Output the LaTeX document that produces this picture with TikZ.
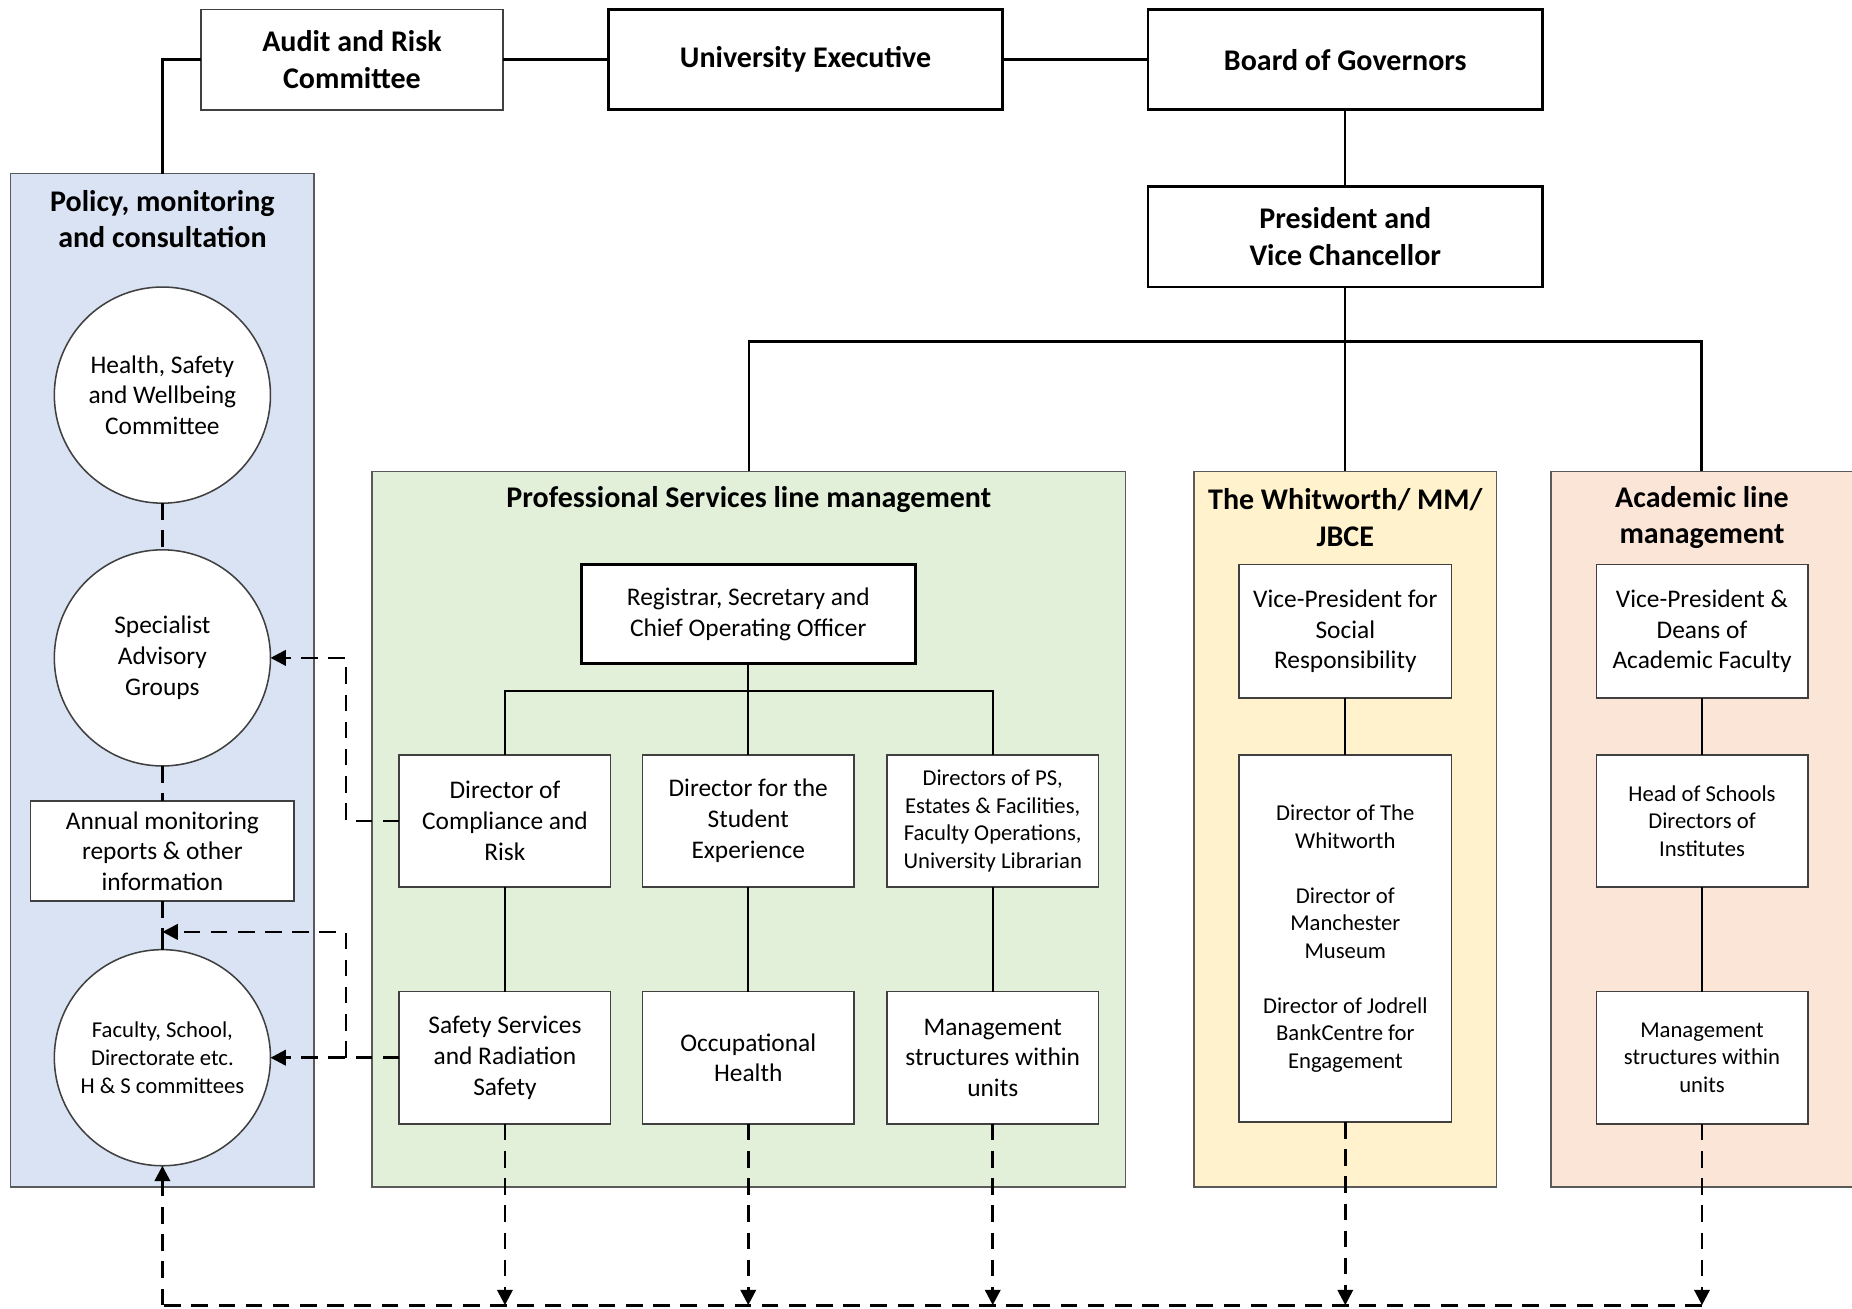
\documentclass[tikz,border=0pt]{standalone}
\usepackage{fontspec}
\setmainfont{Carlito}
\usetikzlibrary{arrows.meta}
\definecolor{polblue}{HTML}{DAE3F3}
\definecolor{psgreen}{HTML}{E2F0D9}
\definecolor{whyellow}{HTML}{FFF2CC}
\definecolor{acpeach}{HTML}{FBE5D6}
\definecolor{framegray}{HTML}{5A5A5A}
\definecolor{boxgray}{HTML}{404040}
\newcommand\hsBig{\fontsize{25.4}{31}\selectfont\bfseries}
\newcommand\hsMid{\fontsize{21.5}{26}\selectfont}
\newcommand\hsSmall{\fontsize{19.2}{23.3}\selectfont}
\begin{document}
\begin{tikzpicture}[x=1pt,y=-1pt,
  container/.style={draw=framegray, line width=1.3pt, inner sep=0, outer sep=0},
  heavybox/.style={draw=black, line width=2.4pt, fill=white, align=center, inner sep=0, outer sep=0, font=\hsBig},
  lightbox/.style={draw=boxgray, line width=1.3pt, fill=white, align=center, inner sep=0, outer sep=0},
  roundbox/.style={circle, draw=boxgray, line width=1.3pt, fill=white, align=center, inner sep=0, outer sep=0, minimum size=183pt},
  titletext/.style={align=center, font=\hsBig, inner sep=0},
  link/.style={line width=2pt},
  dlink/.style={line width=2.3pt, dash pattern=on 14pt off 9pt},
  arrowend/.style={-{Triangle[length=13pt,width=13pt]}}
]
\useasboundingbox (0,0) rectangle (1568,1108);

% containers
\node[container, fill=polblue, minimum width=257pt, minimum height=858pt] (pol) at (137.5,576) {};
\node[container, fill=psgreen, minimum width=638pt, minimum height=606pt] (ps) at (634,702) {};
\node[container, fill=whyellow, minimum width=256pt, minimum height=606pt] (wh) at (1139,702) {};
\node[fill=acpeach, inner sep=0, outer sep=0, minimum width=255pt, minimum height=606pt] (ac) at (1440.5,702) {};
\draw[draw=framegray, line width=1.3pt] (ac.north east) -- (ac.north west) -- (ac.south west) -- (ac.south east);

% titles
\node[titletext] (poltitle) at (137.5,185.5) {Policy, monitoring\\and consultation};
\node[titletext] (pstitle) at (634,423) {Professional Services line management};
\node[titletext] (whtitle) at (1139,438) {The Whitworth/ MM/\\JBCE};
\node[titletext] (actitle) at (1441,438) {Academic line\\management};

% top boxes
\node[lightbox, font=\hsBig, minimum width=256pt, minimum height=85pt] (audit) at (298,50.5) {Audit and Risk\\Committee};
\node[heavybox, minimum width=334pt, minimum height=85pt] (ue) at (682,50.5) {University Executive};
\node[heavybox, minimum width=334pt, minimum height=85pt] (bog) at (1139,50.5) {Board of Governors};
\node[heavybox, minimum width=334pt, minimum height=85pt] (pres) at (1139,200.5) {President and\\Vice Chancellor};

% policy column
\node[roundbox, font=\hsMid] (c1) at (137.5,334.5) {Health, Safety\\and Wellbeing\\Committee};
\node[roundbox, font=\hsMid] (c2) at (137.5,557) {Specialist\\Advisory\\Groups};
\node[lightbox, font=\hsMid, minimum width=223pt, minimum height=85pt] (annual) at (137.5,720.5) {Annual monitoring\\reports \& other\\information};
\node[roundbox, font=\hsSmall] (c3) at (137.5,895.5) {Faculty, School,\\Directorate etc.\\H \& S committees};

% professional services
\node[heavybox, font=\hsMid, minimum width=283pt, minimum height=84pt] (reg) at (633.5,520) {Registrar, Secretary and\\Chief Operating Officer};
\node[lightbox, font=\hsMid, minimum width=179pt, minimum height=112pt] (dcr) at (427.5,695) {Director of\\Compliance and\\Risk};
\node[lightbox, font=\hsMid, minimum width=179pt, minimum height=112pt] (dse) at (633.5,695) {Director for the\\Student\\Experience};
\node[lightbox, font=\hsSmall, minimum width=179pt, minimum height=112pt] (dps) at (840.5,695) {Directors of PS,\\Estates \& Facilities,\\Faculty Operations,\\University Librarian};
\node[lightbox, font=\hsMid, minimum width=179pt, minimum height=112pt] (ssr) at (427.5,895.5) {Safety Services\\and Radiation\\Safety};
\node[lightbox, font=\hsMid, minimum width=179pt, minimum height=112pt] (oh) at (633.5,895.5) {Occupational\\Health};
\node[lightbox, font=\hsMid, minimum width=179pt, minimum height=112pt] (msu) at (840.5,895.5) {Management\\structures within\\units};

% whitworth
\node[lightbox, font=\hsMid, minimum width=180pt, minimum height=113pt] (vpsr) at (1139,534.5) {Vice-President for\\Social\\Responsibility};
\node[lightbox, font=\hsSmall, minimum width=180pt, minimum height=311pt] (dirw) at (1139,794.5) {Director of The\\Whitworth\\[23.3pt]Director of\\Manchester\\Museum\\[23.3pt]Director of Jodrell\\BankCentre for\\Engagement};

% academic
\node[lightbox, font=\hsMid, minimum width=179pt, minimum height=113pt] (vpdeans) at (1441,534.5) {Vice-President \&\\Deans of\\Academic Faculty};
\node[lightbox, font=\hsSmall, minimum width=179pt, minimum height=112pt] (hos) at (1441,695) {Head of Schools\\Directors of\\Institutes};
\node[lightbox, font=\hsSmall, minimum width=179pt, minimum height=112pt] (acmsu) at (1441,895.5) {Management\\structures within\\units};

% helper coordinates
\coordinate (bar) at (0,289);
\coordinate (fork) at (633.5,585);
\coordinate (jx) at (293,0);
\coordinate (tap) at (137.5,789);
\coordinate (bl) at (137.5,1105);

% solid connectors
\draw[link] (audit.east) -- (ue.west);
\draw[link] (ue.east) -- (bog.west);
\draw[link] (audit.west) -| (pol.north);
\draw[link] (bog.south) -- (pres.north);
\draw[link] (pres.south) -- (wh.north);
\draw[link] (ps.north) -- (ps.north |- bar) -- (ac.north |- bar) -- (ac.north);
\draw[link] (reg.south) -- (dse.north);
\draw[link] (dcr.north) |- (fork) -| (dps.north);
\draw[link] (dcr.south) -- (ssr.north);
\draw[link] (dse.south) -- (oh.north);
\draw[link] (dps.south) -- (msu.north);
\draw[link] (vpsr.south) -- (dirw.north);
\draw[link] (vpdeans.south) -- (hos.north);
\draw[link] (hos.south) -- (acmsu.north);
\draw[link] (tap) -- (c3.north);

% dashed connectors in policy column
\draw[dlink] (c1.south) -- (c2.north);
\draw[dlink] (c2.south) -- (annual.north);
\draw[dlink] (annual.south) -- (tap);

% feedback arrows
\draw[dlink, arrowend] (dcr.west) -- (dcr.west -| jx) |- (c2.east);
\draw[dlink, arrowend] (ssr.west) -- (c3.east);
\draw[dlink, arrowend] (ssr.west -| jx) |- (tap);

% bottom collection line
\draw[dlink, arrowend] (ssr.south) -- (ssr.south |- bl);
\draw[dlink, arrowend] (oh.south) -- (oh.south |- bl);
\draw[dlink, arrowend] (msu.south) -- (msu.south |- bl);
\draw[dlink, arrowend] (dirw.south) -- (dirw.south |- bl);
\draw[dlink, arrowend] (acmsu.south) -- (acmsu.south |- bl);
\draw[dlink] (acmsu.south |- bl) -- (bl);
\draw[dlink, arrowend] (bl) -- (c3.south);
\end{tikzpicture}
\end{document}
